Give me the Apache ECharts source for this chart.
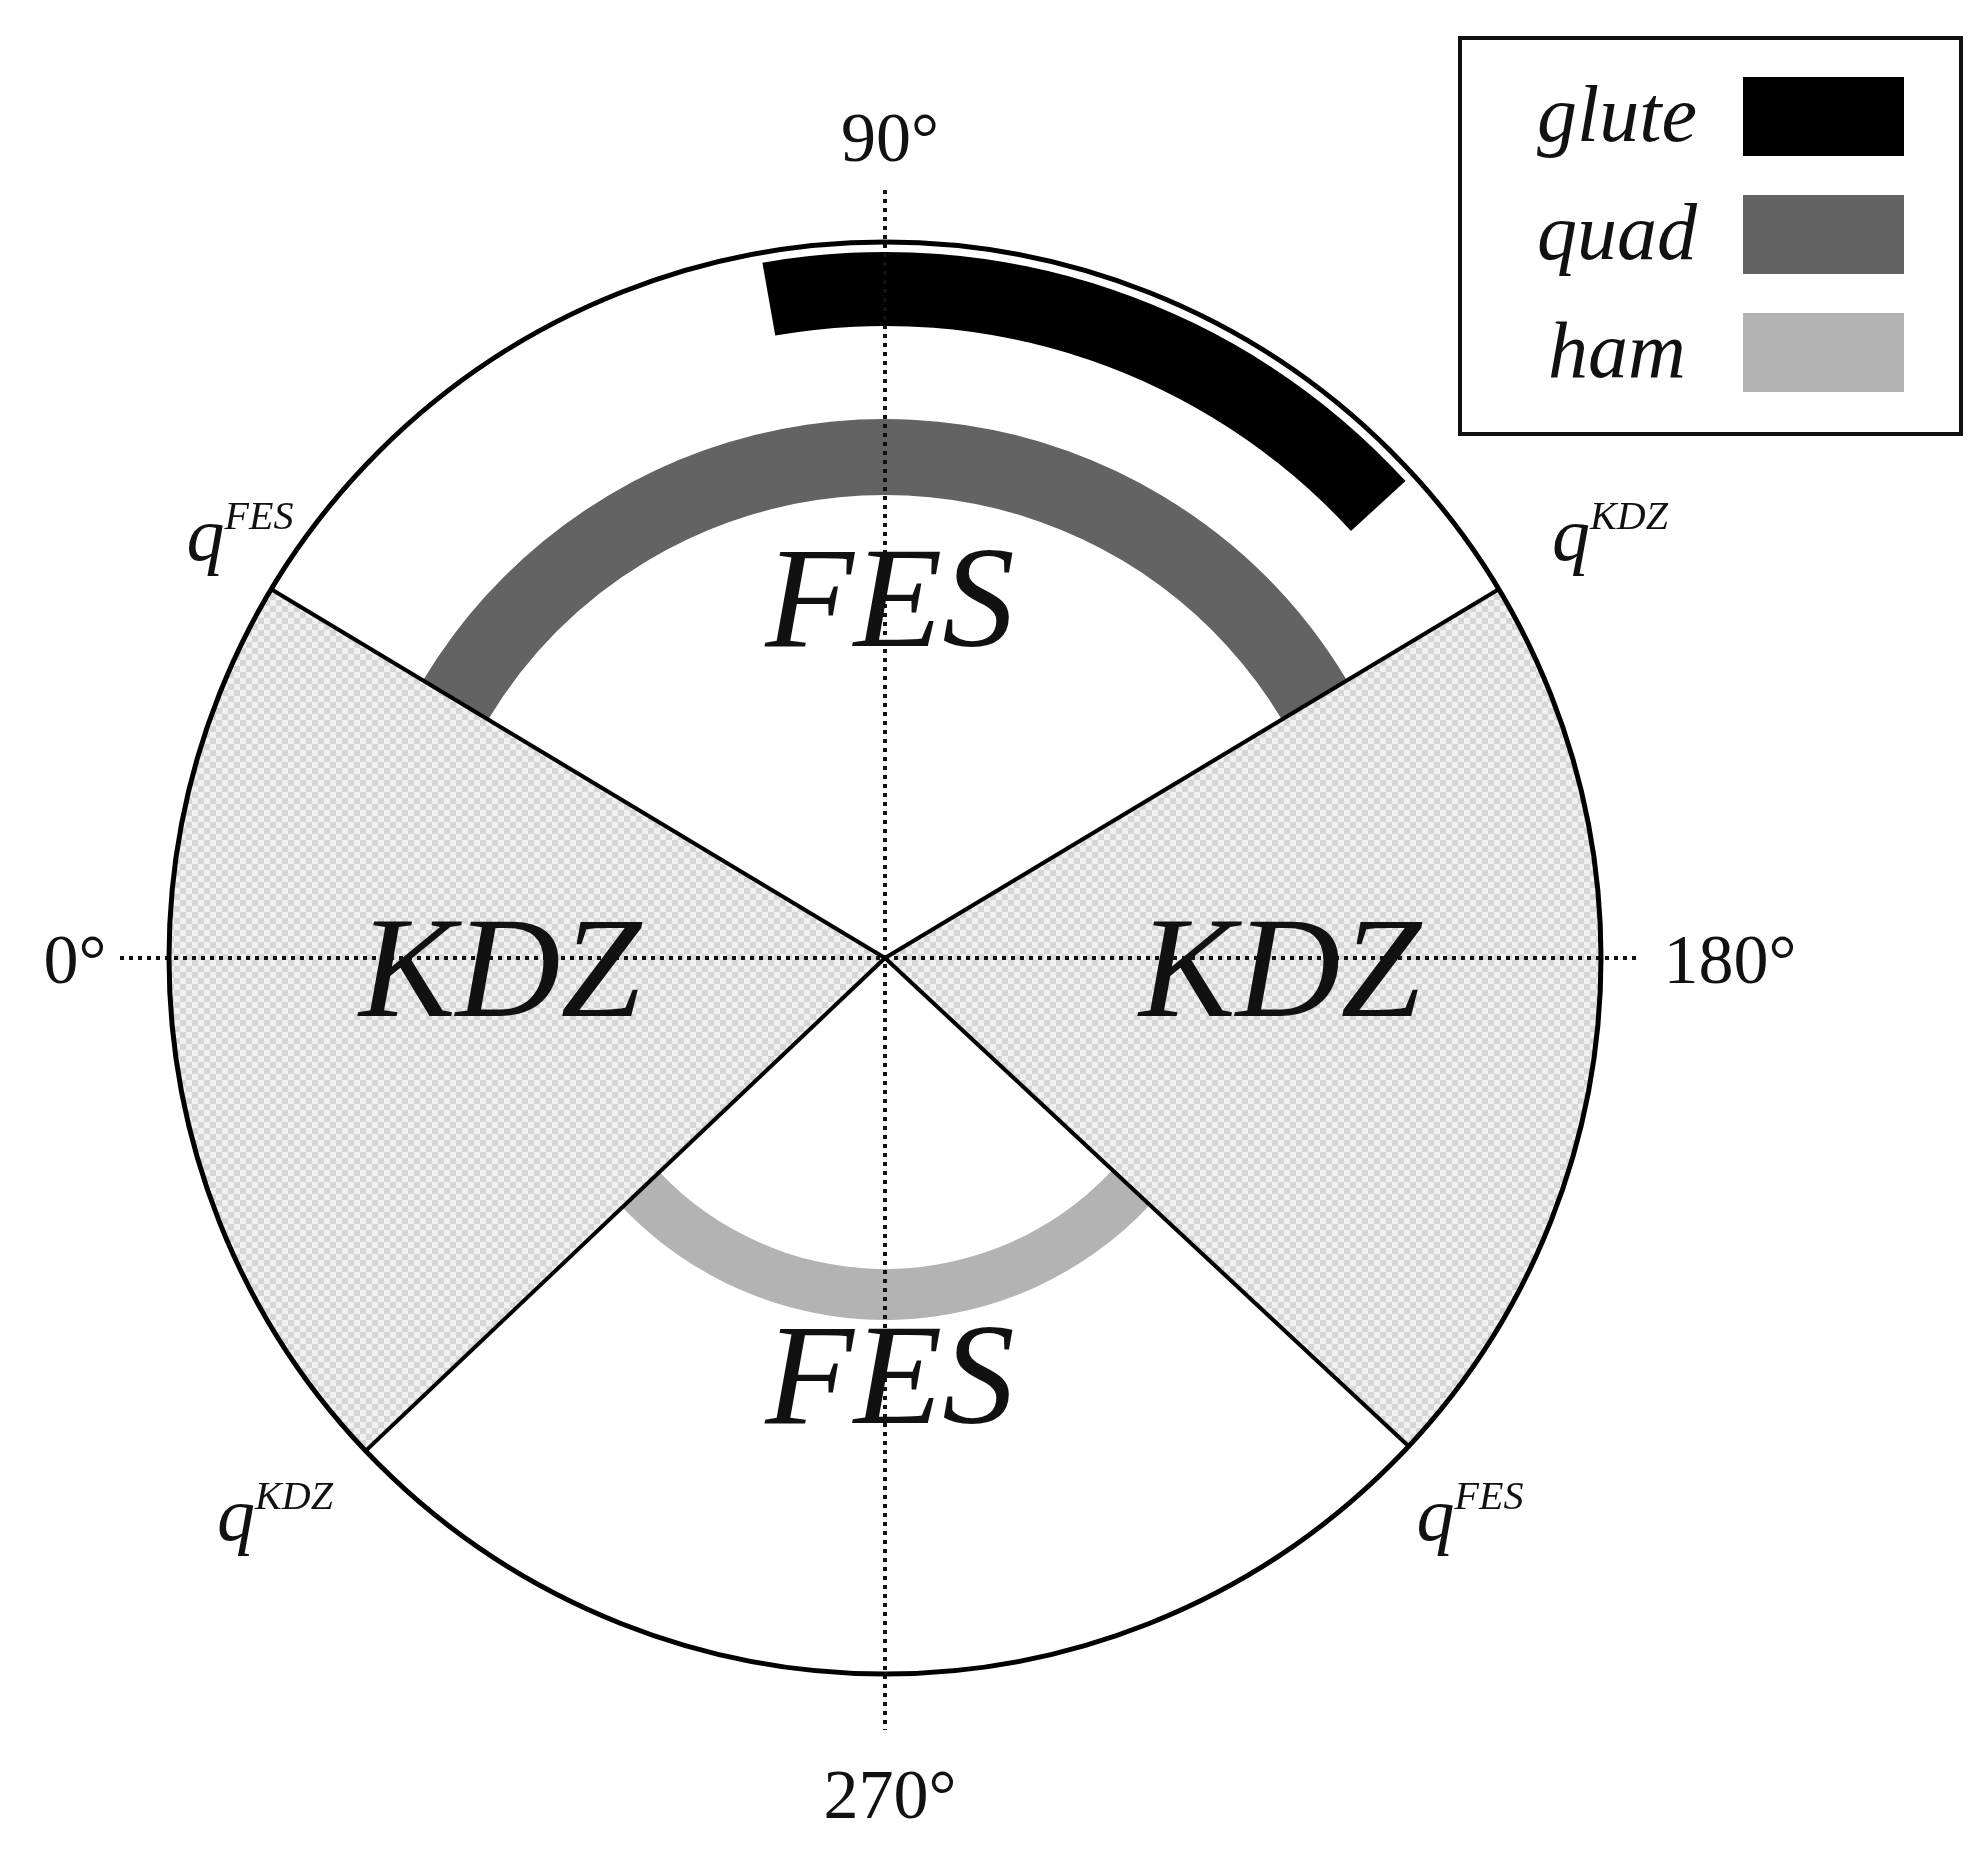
<!DOCTYPE html>
<html>
<head>
<meta charset="utf-8">
<script src="https://cdn.jsdelivr.net/npm/echarts@6/dist/echarts.min.js"></script>
<style>html,body{margin:0;background:#fff}#chart{width:1980px;height:1858px}</style>
</head>
<body>
<div id="chart"></div>
<script>
// angles in degrees: 0 = left, 90 = top, 180 = right, 270 = bottom
const zoneNames = ['KDZ', 'FES', 'KDZ', 'FES'];
const zoneStart = [-43.5, 31, 149, 223];
const zoneEnd = [31, 149, 223, 316.5];
const zoneShaded = [true, false, true, false];

const muscleNames = ['glute', 'quad', 'ham'];
const muscleStart = [80, 31, 223];
const muscleEnd = [137.5, 149, 316.5];
const muscleInner = [632, 463, 311];
const muscleOuter = [706, 539, 362];
const muscleColors = ['#000000', '#636363', '#b3b3b3'];

const boundaryAngles = [31, 149, 223, 316.5];
const R = 716;
const cx = 885, cy = 958;

// checker pattern for KDZ zones
const pat = document.createElement('canvas');
pat.width = 12; pat.height = 12;
const pc = pat.getContext('2d');
pc.fillStyle = '#f0f0f0'; pc.fillRect(0, 0, 12, 12);
pc.fillStyle = '#d6d6d6'; pc.fillRect(0, 0, 6, 6); pc.fillRect(6, 6, 6, 6);

function sectorItem(api, r0, r1, a0, a1, style) {
    const c = api.coord([0, 0]);
    const p0 = api.coord([r1, a0]);
    const p1 = api.coord([r1, a1]);
    const q = api.coord([r0, a0]);
    let s = Math.atan2(p0[1] - c[1], p0[0] - c[0]);
    let e = Math.atan2(p1[1] - c[1], p1[0] - c[0]);
    while (e <= s) e += Math.PI * 2;
    return {
        type: 'sector',
        shape: {cx: c[0], cy: c[1], r0: Math.hypot(q[0] - c[0], q[1] - c[1]),
            r: Math.hypot(p0[0] - c[0], p0[1] - c[1]), startAngle: s, endAngle: e, clockwise: true},
        style: style
    };
}

const zoneData = zoneNames.map((n, i) => [zoneStart[i], zoneEnd[i], zoneShaded[i] ? 1 : 0]);
const muscleData = muscleNames.map((n, i) => [muscleStart[i], muscleEnd[i], muscleInner[i], muscleOuter[i], i]);

const serif = 'Liberation Serif';
const lbl = (x, y, text, size, italic, extra) => Object.assign({
    type: 'text', x: x, y: y, z: 20,
    style: {text: text, fontFamily: serif, fontSize: size, fontStyle: italic ? 'italic' : 'normal',
        fill: '#111', align: 'center', verticalAlign: 'middle'}
}, extra || {});

const qRich = {b: {fontFamily: serif, fontSize: 76, fontStyle: 'italic', fill: '#111'},
    s: {fontFamily: serif, fontSize: 40, fontStyle: 'italic', fill: '#111', verticalAlign: 'top', padding: [0, 0, 44, 0]}};
const qLabel = (x, y, sup) => ({type: 'text', x: x, y: y, z: 20,
    style: {text: '{b|q}{s|' + sup + '}', rich: qRich, align: 'center', verticalAlign: 'middle'}});

const chart = echarts.init(document.getElementById('chart'));
chart.setOption({
    animation: false,
    backgroundColor: '#fff',
    polar: {center: [cx, cy], radius: R},
    angleAxis: {min: 0, max: 360, startAngle: 180, clockwise: true, z: 15,
        axisLine: {show: true, lineStyle: {color: '#000', width: 5}},
        axisTick: {show: false}, axisLabel: {show: false}, splitLine: {show: false}},
    radiusAxis: {min: 0, max: R, show: false},
    graphic: [
        {type: 'line', z: 12, shape: {x1: 120, y1: cy, x2: 1640, y2: cy}, style: {stroke: '#111', lineWidth: 4, lineDash: [4, 5]}},
        {type: 'line', z: 12, shape: {x1: cx, y1: 190, x2: cx, y2: 1730}, style: {stroke: '#111', lineWidth: 4, lineDash: [4, 5]}},
        lbl(890, 143, '90°', 70, false),
        lbl(75, 965, '0°', 70, false),
        lbl(1730, 965, '180°', 70, false),
        lbl(890, 1800, '270°', 70, false),
        lbl(890, 608, 'FES', 145, true),
        lbl(890, 1385, 'FES', 145, true),
        lbl(500, 978, 'KDZ', 145, true),
        lbl(1280, 978, 'KDZ', 145, true),
        qLabel(240, 540, 'FES'),
        qLabel(1610, 540, 'KDZ'),
        qLabel(275, 1520, 'KDZ'),
        qLabel(1470, 1520, 'FES'),
        {type: 'rect', z: 20, shape: {x: 1460, y: 38, width: 501, height: 396}, style: {fill: '#fff', stroke: '#111', lineWidth: 4}},
        ...muscleNames.map((n, i) => lbl(1617, 120 + i * 118, n, 80, true, {z: 21})),
        ...muscleColors.map((c, i) => ({type: 'rect', z: 21, shape: {x: 1743, y: 77 + i * 118, width: 161, height: 79}, style: {fill: c}}))
    ],
    series: [
        {type: 'custom', coordinateSystem: 'polar', data: zoneData, z: 2,
            renderItem: (p, api) => sectorItem(api, 0, R, api.value(0), api.value(1),
                {fill: api.value(2) ? {image: pat, repeat: 'repeat'} : '#fff'})},
        {type: 'custom', coordinateSystem: 'polar', data: muscleData, z: 3,
            renderItem: (p, api) => sectorItem(api, api.value(2), api.value(3), api.value(0), api.value(1),
                {fill: muscleColors[api.value(4)]})},
        {type: 'custom', coordinateSystem: 'polar', data: boundaryAngles.map(a => [a]), z: 14,
            renderItem: (p, api) => {
                const c = api.coord([0, 0]), e = api.coord([R, api.value(0)]);
                return {type: 'line', shape: {x1: c[0], y1: c[1], x2: e[0], y2: e[1]}, style: {stroke: '#000', lineWidth: 4}};
            }}
    ]
});
</script>
</body>
</html>
